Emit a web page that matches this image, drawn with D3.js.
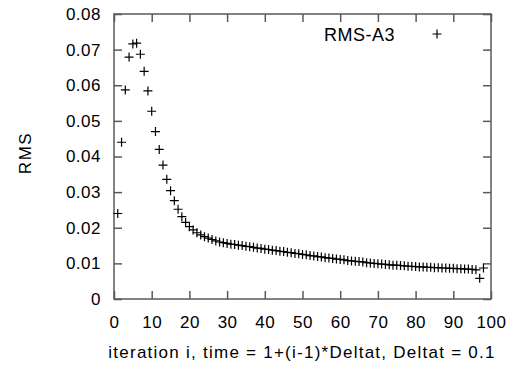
<!DOCTYPE html>
<html>
<head>
<meta charset="utf-8">
<script src="https://cdn.jsdelivr.net/npm/d3@7"></script>
<style>
  body { margin: 0; background: #fff; }
  text { font-family: "Liberation Sans", Arial, sans-serif; fill: #000; }
</style>
</head>
<body>
<div id="chart"></div>
<script>
// iteration numbers (x values)
var iterations = d3.range(1, 99);
// RMS-A3 values, one per iteration
var rmsA3 = [
  0.0240, 0.0440, 0.0587, 0.0679, 0.0716, 0.0718, 0.0687, 0.0639, 0.0584, 0.0527,
  0.0470, 0.0420, 0.0376, 0.0336, 0.0304, 0.0276, 0.0252, 0.0231, 0.0215, 0.0203,
  0.0194, 0.0186, 0.0180, 0.0175, 0.0171, 0.0167, 0.0163, 0.0160, 0.0158, 0.0156,
  0.0154, 0.0153, 0.0151, 0.0150, 0.0148, 0.0147, 0.0145, 0.0143, 0.0142, 0.0140,
  0.0139, 0.0137, 0.0136, 0.0134, 0.0133, 0.0131, 0.0130, 0.0128, 0.0127, 0.0125,
  0.0124, 0.0122, 0.0121, 0.0119, 0.0118, 0.0116, 0.0115, 0.0114, 0.0112, 0.0111,
  0.0110, 0.0108, 0.0107, 0.0106, 0.0105, 0.0104, 0.0102, 0.0101, 0.0100, 0.0099,
  0.0098, 0.0097, 0.0096, 0.0095, 0.0095, 0.0094, 0.0093, 0.0092, 0.0092, 0.0091,
  0.0090, 0.0090, 0.0089, 0.0089, 0.0088, 0.0088, 0.0087, 0.0087, 0.0086, 0.0086,
  0.0085, 0.0085, 0.0084, 0.0084, 0.0083, 0.0082, 0.0058, 0.0087
];
// tick values
var xTicks = [0, 10, 20, 30, 40, 50, 60, 70, 80, 90, 100];
var yTicks = [0, 0.01, 0.02, 0.03, 0.04, 0.05, 0.06, 0.07, 0.08];
var seriesName = "RMS-A3";
var xTitle = "iteration i, time = 1+(i-1)*Deltat, Deltat = 0.1";
var yTitle = "RMS";

// canvas and plot box
var svgWidth = 510;
var svgHeight = 366;
var margin = { top: 14, right: 19, bottom: 67, left: 114 };
var chartWidth = svgWidth - margin.left - margin.right;
var chartHeight = svgHeight - margin.top - margin.bottom;

var axisColor = "#5a5a5a";
var tickLen = 8;
var crossSize = 4.5;

var svg = d3.select("#chart")
  .append("svg")
  .attr("width", svgWidth)
  .attr("height", svgHeight);

var chartGroup = svg.append("g")
  .attr("transform", `translate(${margin.left}, ${margin.top})`);

var xScale = d3.scaleLinear().domain([0, 100]).range([0, chartWidth]);
var yScale = d3.scaleLinear().domain([0, 0.08]).range([chartHeight, 0]);

// inward ticks on all four sides (gnuplot mirror style)
function styleAxis(g) {
  g.select(".domain").remove();
  g.selectAll(".tick line").attr("stroke", axisColor).attr("stroke-width", 1.5);
  g.selectAll(".tick text")
    .style("font-size", "17px")
    .style("letter-spacing", "0.5px");
}

chartGroup.append("g")
  .attr("transform", `translate(0, ${chartHeight})`)
  .call(d3.axisBottom(xScale).tickValues(xTicks).tickSize(-tickLen).tickPadding(17).tickFormat(d3.format("d")))
  .call(styleAxis);

chartGroup.append("g")
  .call(d3.axisTop(xScale).tickValues(xTicks).tickSize(-tickLen).tickFormat(""))
  .call(styleAxis);

chartGroup.append("g")
  .call(d3.axisLeft(yScale).tickValues(yTicks).tickSize(-tickLen).tickPadding(13).tickFormat(d => d === 0 ? "0" : d3.format(".2f")(d)))
  .call(styleAxis);

chartGroup.append("g")
  .attr("transform", `translate(${chartWidth}, 0)`)
  .call(d3.axisRight(yScale).tickValues(yTicks).tickSize(-tickLen).tickFormat(""))
  .call(styleAxis);

// plot border
chartGroup.append("rect")
  .attr("width", chartWidth)
  .attr("height", chartHeight)
  .attr("fill", "none")
  .attr("stroke", axisColor)
  .attr("stroke-width", 1.5);

// points drawn as "+" crosses
function crossPath(cx, cy, s) {
  return `M${cx - s},${cy}H${cx + s}M${cx},${cy - s}V${cy + s}`;
}

chartGroup.append("g")
  .selectAll("path")
  .data(rmsA3)
  .enter().append("path")
  .attr("d", (d, i) => crossPath(xScale(iterations[i]), yScale(d), crossSize))
  .attr("stroke", "#000")
  .attr("stroke-width", 1.2)
  .attr("fill", "none");

// legend
chartGroup.append("text")
  .attr("x", 281)
  .attr("y", 27)
  .attr("text-anchor", "end")
  .style("font-size", "18px")
  .style("letter-spacing", "0.5px")
  .text(seriesName);

chartGroup.append("path")
  .attr("d", crossPath(323, 20, crossSize))
  .attr("stroke", "#000")
  .attr("stroke-width", 1.2);

// axis titles
svg.append("text")
  .attr("x", 302)
  .attr("y", 358)
  .attr("text-anchor", "middle")
  .style("font-size", "17px")
  .style("letter-spacing", "1.25px")
  .text(xTitle);

svg.append("text")
  .attr("transform", `translate(31, 153) rotate(-90)`)
  .attr("text-anchor", "middle")
  .style("font-size", "17px")
  .style("letter-spacing", "1.5px")
  .text(yTitle);
</script>
</body>
</html>
